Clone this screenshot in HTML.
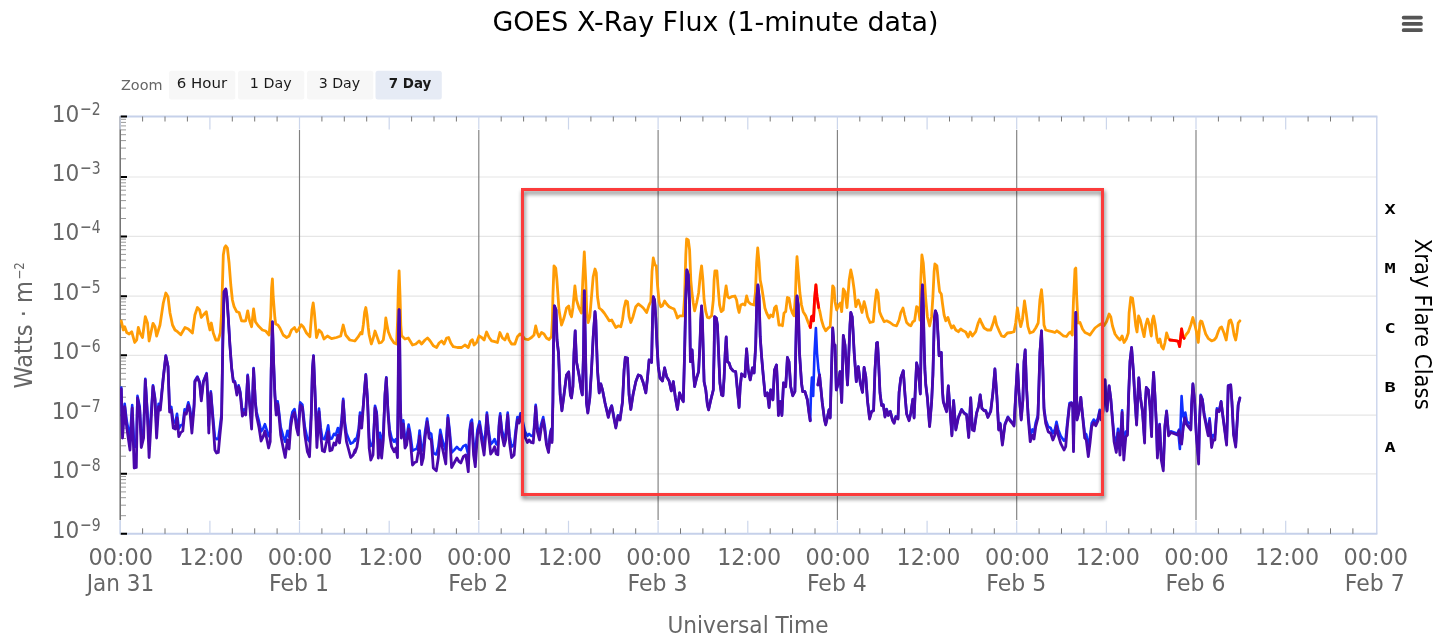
<!DOCTYPE html>
<html lang="en"><head><meta charset="utf-8"><title>GOES X-Ray Flux (1-minute data)</title>
<style>
html,body{margin:0;padding:0;background:#fff;}
body{width:1441px;height:638px;overflow:hidden;position:relative;font-family:"DejaVu Sans", "Liberation Sans", sans-serif;}
svg{position:absolute;left:0;top:0;display:block;}
svg text{font-family:"DejaVu Sans", "Liberation Sans", sans-serif;}
.ax{fill:#666;font-size:22.5px;}
.ylab{fill:#666;font-size:23.5px;}
.sup{font-size:18.5px;}
.btn{fill:#1a1a1a;font-size:14.5px;}
.cls{font-family:"DejaVu Sans Mono", "Liberation Mono", monospace;font-weight:bold;font-size:14px;fill:#000;}
</style></head><body>
<svg width="1441" height="638" viewBox="0 0 1441 638">
<defs><filter id="sh" x="-5%" y="-5%" width="110%" height="112%"><feGaussianBlur in="SourceAlpha" stdDeviation="2.2"/><feOffset dx="1.3" dy="3.3"/><feComponentTransfer><feFuncA type="linear" slope="0.55"/></feComponentTransfer><feMerge><feMergeNode/><feMergeNode in="SourceGraphic"/></feMerge></filter>
<clipPath id="plot"><rect x="120" y="117" width="1258" height="417"/></clipPath></defs>
<rect width="1441" height="638" fill="#fff"/>
<path d="M120.2 177.0H1376.8M120.2 236.4H1376.8M120.2 296.2H1376.8M120.2 355.3H1376.8M120.2 415.2H1376.8M120.2 473.8H1376.8" stroke="#e6e6e6" stroke-width="1.2" fill="none"/>
<path d="M299.50 130.0V520.0M478.80 130.0V520.0M658.10 130.0V520.0M837.40 130.0V520.0M1016.70 130.0V520.0M1196.00 130.0V520.0" stroke="#808080" stroke-width="1.15" fill="none"/>
<path d="M119.7 116.5H1377.4M119.7 533.8H1377.4" stroke="#c6d1ea" stroke-width="2.0" fill="none"/>
<path d="M1376.8 116.5V533.8" stroke="#c6d1ea" stroke-width="1.3" fill="none"/>
<path d="M120.2 116.5V520.0" stroke="#666" stroke-width="1.4" fill="none"/>
<path d="M120.2 520.0V533.8" stroke="#ccd6eb" stroke-width="1.4" fill="none"/>
<path d="M120.2 116.5V129.5M209.9 116.5V129.5M299.5 116.5V129.5M389.2 116.5V129.5M478.8 116.5V129.5M568.5 116.5V129.5M658.1 116.5V129.5M747.8 116.5V129.5M837.4 116.5V129.5M927.1 116.5V129.5M1016.7 116.5V129.5M1106.4 116.5V129.5M1196.0 116.5V129.5M1285.7 116.5V129.5M120.2 520.8V533.8M209.9 520.8V533.8M299.5 520.8V533.8M389.2 520.8V533.8M478.8 520.8V533.8M568.5 520.8V533.8M658.1 520.8V533.8M747.8 520.8V533.8M837.4 520.8V533.8M927.1 520.8V533.8M1016.7 520.8V533.8M1106.4 520.8V533.8M1196.0 520.8V533.8M1285.7 520.8V533.8" stroke="#ccd6eb" stroke-width="1.2" fill="none"/>
<path d="M142.6 116.5V121.5M165.0 116.5V121.5M187.4 116.5V121.5M232.3 116.5V121.5M254.7 116.5V121.5M277.1 116.5V121.5M321.9 116.5V121.5M344.3 116.5V121.5M366.7 116.5V121.5M411.6 116.5V121.5M434.0 116.5V121.5M456.4 116.5V121.5M501.2 116.5V121.5M523.6 116.5V121.5M546.0 116.5V121.5M590.9 116.5V121.5M613.3 116.5V121.5M635.7 116.5V121.5M680.5 116.5V121.5M702.9 116.5V121.5M725.3 116.5V121.5M770.2 116.5V121.5M792.6 116.5V121.5M815.0 116.5V121.5M859.8 116.5V121.5M882.2 116.5V121.5M904.6 116.5V121.5M949.5 116.5V121.5M971.9 116.5V121.5M994.3 116.5V121.5M1039.1 116.5V121.5M1061.5 116.5V121.5M1083.9 116.5V121.5M1128.8 116.5V121.5M1151.2 116.5V121.5M1173.6 116.5V121.5M1218.4 116.5V121.5M1240.8 116.5V121.5M1263.2 116.5V121.5M1308.1 116.5V121.5M1330.5 116.5V121.5M1352.9 116.5V121.5M142.6 528.3V533.8M165.0 528.3V533.8M187.4 528.3V533.8M232.3 528.3V533.8M254.7 528.3V533.8M277.1 528.3V533.8M321.9 528.3V533.8M344.3 528.3V533.8M366.7 528.3V533.8M411.6 528.3V533.8M434.0 528.3V533.8M456.4 528.3V533.8M501.2 528.3V533.8M523.6 528.3V533.8M546.0 528.3V533.8M590.9 528.3V533.8M613.3 528.3V533.8M635.7 528.3V533.8M680.5 528.3V533.8M702.9 528.3V533.8M725.3 528.3V533.8M770.2 528.3V533.8M792.6 528.3V533.8M815.0 528.3V533.8M859.8 528.3V533.8M882.2 528.3V533.8M904.6 528.3V533.8M949.5 528.3V533.8M971.9 528.3V533.8M994.3 528.3V533.8M1039.1 528.3V533.8M1061.5 528.3V533.8M1083.9 528.3V533.8M1128.8 528.3V533.8M1151.2 528.3V533.8M1173.6 528.3V533.8M1218.4 528.3V533.8M1240.8 528.3V533.8M1263.2 528.3V533.8M1308.1 528.3V533.8M1330.5 528.3V533.8M1352.9 528.3V533.8" stroke="#777" stroke-width="1" fill="none"/>
<path d="M121.0 158.8H126.0M121.0 148.1H126.0M121.0 140.6H126.0M121.0 134.7H126.0M121.0 129.9H126.0M121.0 125.9H126.0M121.0 122.4H126.0M121.0 119.3H126.0M121.0 218.5H126.0M121.0 208.1H126.0M121.0 200.6H126.0M121.0 194.9H126.0M121.0 190.2H126.0M121.0 186.2H126.0M121.0 182.8H126.0M121.0 179.7H126.0M121.0 278.2H126.0M121.0 267.7H126.0M121.0 260.2H126.0M121.0 254.4H126.0M121.0 249.7H126.0M121.0 245.7H126.0M121.0 242.2H126.0M121.0 239.1H126.0M121.0 337.5H126.0M121.0 327.1H126.0M121.0 319.7H126.0M121.0 314.0H126.0M121.0 309.3H126.0M121.0 305.4H126.0M121.0 301.9H126.0M121.0 298.9H126.0M121.0 397.2H126.0M121.0 386.6H126.0M121.0 379.1H126.0M121.0 373.3H126.0M121.0 368.6H126.0M121.0 364.6H126.0M121.0 361.1H126.0M121.0 358.0H126.0M121.0 456.2H126.0M121.0 445.8H126.0M121.0 438.5H126.0M121.0 432.8H126.0M121.0 428.2H126.0M121.0 424.3H126.0M121.0 420.9H126.0M121.0 417.9H126.0M121.0 515.7H126.0M121.0 505.2H126.0M121.0 497.7H126.0M121.0 491.9H126.0M121.0 487.1H126.0M121.0 483.1H126.0M121.0 479.6H126.0M121.0 476.5H126.0" stroke="#999" stroke-width="1" fill="none"/>
<path d="M120.8 116.5H127.0M120.8 177.0H127.0M120.8 236.4H127.0M120.8 296.2H127.0M120.8 355.3H127.0M120.8 415.2H127.0M120.8 473.8H127.0M120.8 533.8H127.0" stroke="#000" stroke-width="2" fill="none"/>
<g clip-path="url(#plot)">
<path d="M121.3 321.0L123.3 330.0L124.7 326.7L126.7 332.5L129.2 334.0L131.7 331.7L134.7 342.5L136.7 340.0L138.3 327.5L140.0 333.0L142.5 337.5L145.3 316.7L147.5 323.0L149.1 341.0L153.0 323.3L155.0 326.7L156.6 336.0L160.0 325.0L163.3 303.0L165.8 293.0L168.0 296.7L170.0 313.0L172.5 325.0L175.0 330.0L177.5 331.7L180.8 334.7L185.0 327.5L188.3 329.0L192.4 333.0L194.9 315.0L197.4 307.5L199.6 310.0L201.3 317.5L203.3 315.0L206.3 311.7L208.3 323.0L209.9 330.0L211.3 323.0L213.3 333.0L215.8 340.0L218.3 340.0L220.3 333.0L221.6 313.0L223.3 255.0L224.6 247.5L225.8 245.8L227.4 248.0L229.1 263.0L230.8 285.0L232.4 300.0L234.1 306.7L236.6 311.7L239.1 312.5L241.6 320.8L244.1 321.0L245.7 320.8L247.7 310.8L249.6 320.8L251.6 326.7L253.6 309.0L255.4 321.7L258.2 325.8L262.4 330.0L265.7 331.0L269.1 335.0L270.7 316.7L271.6 288.0L272.4 279.0L273.2 296.7L274.9 318.0L275.7 324.0L277.9 325.0L279.9 328.0L283.2 335.0L286.6 337.5L289.1 336.0L291.5 330.0L294.5 327.5L296.5 331.7L298.2 330.0L301.2 324.7L303.2 326.7L306.5 333.0L309.9 336.7L312.0 310.0L313.2 303.0L314.4 313.0L316.5 337.5L319.0 330.0L321.5 332.5L324.0 339.0L327.4 336.0L331.5 338.7L336.5 337.5L340.7 336.0L343.2 325.0L345.7 335.0L349.8 340.0L354.8 341.0L355.0 340.8L358.3 336.7L360.8 332.5L362.0 334.0L363.3 325.0L364.7 312.0L365.8 307.5L367.0 315.0L368.3 328.0L369.2 335.0L371.3 344.0L373.3 338.0L375.0 331.0L377.5 338.0L379.2 343.0L381.3 342.5L383.3 340.0L385.0 328.0L385.8 318.0L387.0 325.0L388.3 331.7L390.8 338.0L394.1 343.0L396.6 344.0L397.6 320.0L398.3 290.0L399.1 270.8L400.0 295.0L400.8 325.0L401.6 335.8L405.0 339.0L408.3 338.0L412.5 345.0L415.8 344.0L419.1 341.0L421.6 344.0L425.0 340.0L427.5 338.0L430.0 340.8L433.3 345.8L436.6 347.5L439.1 343.0L441.6 341.0L444.1 344.0L446.6 338.0L448.6 337.5L450.8 343.0L453.3 346.7L457.4 347.5L461.6 347.5L464.9 345.0L468.3 347.5L470.8 340.8L472.4 339.7L474.1 345.0L476.6 342.5L479.1 335.8L481.6 337.5L484.1 340.0L486.6 332.0L489.1 337.5L491.6 340.8L494.9 341.7L497.4 342.5L499.9 332.5L502.4 338.0L504.9 340.0L507.4 334.0L509.1 340.0L511.6 344.0L514.9 344.0L517.4 336.7L519.9 334.0L522.4 335.8L524.9 339.0L528.2 339.7L531.5 337.5L534.0 335.0L535.7 326.0L537.4 333.0L539.0 336.7L541.5 332.5L544.0 334.0L546.5 338.0L549.0 339.7L551.5 336.7L552.4 320.0L552.9 296.7L554.0 265.8L555.7 268.0L556.9 280.0L559.0 310.0L561.5 325.0L564.0 318.0L566.5 308.0L568.7 306.0L570.2 314.0L571.5 316.7L572.9 308.0L574.9 285.8L576.5 300.0L579.0 308.0L581.5 313.0L582.8 280.0L584.3 252.0L585.7 280.0L586.8 313.0L588.2 322.5L589.8 316.7L591.5 296.7L593.2 276.7L595.0 269.0L596.3 273.0L597.5 296.7L599.2 308.0L601.7 310.0L604.2 313.0L606.7 316.7L609.2 320.8L611.7 320.0L613.3 323.0L615.8 327.5L618.3 325.8L620.8 326.7L622.5 320.0L624.1 308.0L625.8 300.8L627.5 301.7L629.1 316.7L630.8 322.5L633.0 316.7L635.8 306.7L638.3 304.0L640.8 305.8L643.3 308.0L646.6 312.5L649.1 305.0L650.8 301.7L652.0 271.7L653.3 258.0L655.0 265.0L656.3 265.8L657.5 285.0L659.1 301.7L660.8 306.7L662.5 305.8L664.6 301.0L666.6 304.0L669.1 306.7L671.6 308.0L674.1 309.0L675.8 313.0L677.4 318.0L679.9 315.8L683.3 315.8L684.6 296.7L685.8 255.0L686.6 239.0L688.3 240.0L689.6 250.0L690.8 280.0L691.9 292.5L693.3 303.0L694.6 310.8L696.6 303.0L698.6 293.0L700.3 275.0L701.6 265.8L702.9 280.0L704.1 300.0L705.8 311.7L707.4 317.5L709.1 318.0L711.6 315.8L713.3 300.0L714.1 280.0L714.9 271.0L716.9 271.0L717.9 285.0L719.6 305.0L721.2 311.7L723.2 310.0L724.6 296.7L726.1 286.0L727.7 296.7L729.1 298.0L731.6 296.7L734.9 296.0L736.6 300.0L737.9 308.0L739.1 312.5L740.7 305.0L742.9 304.0L744.9 305.0L746.6 296.0L748.2 301.7L750.7 304.0L754.1 305.0L755.4 293.0L756.6 263.0L757.7 248.0L759.1 263.0L760.2 280.0L761.6 286.7L763.2 296.7L764.9 308.0L766.6 313.0L769.1 318.0L770.7 315.0L772.9 316.7L774.5 308.0L776.2 306.0L777.4 313.0L779.0 325.0L781.5 325.0L782.4 325.8L784.0 313.0L785.7 311.7L787.4 297.5L789.0 298.0L790.7 308.0L792.4 313.0L794.0 315.8L795.4 296.7L796.2 271.7L797.0 256.7L798.2 271.7L799.9 293.0L801.5 305.0L803.2 311.7L805.7 315.8L808.2 322.5L810.4 327.5L811.5 316.7L812.9 315.8L813.5 320.8L814.5 300.0L815.9 285.0L817.0 296.7L818.7 307.5L819.9 311.7L821.5 320.0L823.5 326.7L825.7 330.8L828.2 328.0L830.2 326.7L831.5 305.0L832.7 285.8L834.0 288.0L835.0 301.7L836.7 310.0L838.7 305.0L840.3 303.0L841.7 311.7L843.3 289.0L845.0 291.7L847.0 307.5L849.2 280.0L850.8 270.0L852.5 278.0L854.2 290.0L855.8 306.7L858.3 300.0L860.3 305.8L862.0 312.5L864.1 301.7L865.8 308.0L867.5 316.7L870.0 322.5L873.3 321.7L875.0 303.0L876.6 290.0L878.0 293.0L879.6 311.7L881.6 316.7L884.1 321.7L886.6 320.8L890.0 322.5L893.3 325.0L896.6 325.8L899.1 320.0L900.8 312.5L903.0 308.0L904.6 315.0L906.6 322.5L909.1 325.0L910.8 325.8L912.9 321.7L914.6 320.8L916.6 306.7L918.3 308.0L919.9 320.0L920.8 280.0L921.9 255.0L923.3 263.0L924.6 281.7L925.8 300.0L927.4 316.7L929.6 326.0L931.6 316.7L932.9 296.7L934.1 271.7L934.9 264.0L936.9 265.8L938.3 280.0L939.6 291.7L941.3 294.0L942.4 303.0L944.1 315.0L945.8 320.8L947.9 317.5L949.6 323.0L951.6 328.0L953.6 325.8L955.8 330.0L958.3 331.7L960.7 329.0L963.2 330.8L965.7 332.0L968.2 337.0L970.2 332.0L972.4 336.0L975.7 331.7L978.2 323.0L979.9 319.0L981.6 323.0L984.1 328.0L987.4 330.0L990.7 330.0L993.2 323.0L994.9 316.7L996.6 325.0L999.1 330.8L1001.6 336.0L1004.1 336.7L1007.4 333.0L1011.5 332.5L1014.0 331.7L1015.7 323.0L1017.4 308.0L1019.0 318.0L1020.7 326.7L1022.4 320.0L1024.5 301.0L1026.2 313.0L1027.9 326.7L1029.9 333.0L1033.2 331.7L1035.7 328.0L1038.2 323.0L1039.9 300.0L1041.5 289.7L1042.9 305.0L1044.0 325.0L1045.7 330.0L1049.0 330.8L1052.4 331.7L1054.9 332.5L1056.9 330.8L1059.9 333.0L1063.2 335.8L1066.5 336.5L1069.0 333.0L1070.7 332.0L1072.3 335.0L1073.5 300.0L1075.0 269.0L1075.8 268.0L1076.7 296.7L1078.0 323.0L1080.0 322.5L1082.5 329.0L1085.0 332.5L1088.3 334.0L1090.0 335.0L1091.7 332.5L1095.0 328.0L1098.3 325.5L1100.8 324.0L1104.1 325.5L1106.6 321.5L1109.1 314.0L1110.8 317.0L1112.5 326.0L1115.0 334.0L1117.5 337.5L1120.0 340.0L1122.1 336.0L1124.1 342.5L1126.3 339.0L1128.3 333.0L1129.1 313.0L1130.8 297.5L1132.5 298.0L1134.1 310.0L1135.8 326.0L1137.0 332.0L1138.6 316.0L1140.3 320.0L1142.5 330.0L1144.1 336.7L1145.8 325.0L1147.5 319.0L1149.1 324.0L1151.3 336.0L1152.4 320.0L1153.6 316.0L1155.3 325.0L1156.9 338.0L1158.3 342.5L1159.9 339.0L1161.6 346.7L1163.3 349.0L1164.9 343.0L1166.6 333.0L1168.3 338.0L1169.9 340.0L1173.3 340.3L1176.6 340.8L1178.3 341.3L1179.6 346.7L1180.4 340.0L1181.6 329.0L1182.9 336.7L1184.1 338.3L1185.8 335.0L1188.3 332.0L1190.8 325.0L1192.9 317.5L1194.6 324.0L1196.3 331.0L1197.4 338.0L1198.3 342.5L1199.1 333.0L1199.9 323.0L1200.7 321.0L1201.9 321.5L1203.6 327.0L1205.7 334.0L1208.2 338.3L1211.6 340.8L1214.1 340.0L1216.2 337.5L1218.2 331.7L1219.9 328.0L1221.6 327.0L1224.1 333.3L1226.2 340.0L1227.9 328.0L1229.1 321.0L1230.7 320.0L1232.4 325.0L1234.1 335.0L1235.7 340.0L1236.9 333.0L1238.2 323.0L1239.9 320.8" stroke="#ff9c05" stroke-width="2.8" fill="none" stroke-linejoin="round" stroke-linecap="round"/>
<path d="M809.9 326.0L810.4 327.5L811.5 316.7L812.9 315.8L813.5 320.8L814.5 300.0L815.9 285.0L817.0 296.7L818.7 307.5" stroke="#ff0000" stroke-width="2.8" fill="none" stroke-linejoin="round" stroke-linecap="round"/>
<path d="M1169.9 340.0L1173.3 340.3L1176.6 340.8L1178.3 341.3L1179.6 346.7L1180.4 340.0L1181.6 329.0L1182.9 336.7L1184.1 338.3" stroke="#ff0000" stroke-width="2.8" fill="none" stroke-linejoin="round" stroke-linecap="round"/>
<path d="M121.3 387.5L122.5 429.4L124.7 403.8L126.7 421.1L130.0 437.4L132.2 405.0L134.2 446.9L136.3 446.7L137.5 395.9L139.7 406.8L141.3 435.8L143.6 429.4L145.3 378.9L147.5 413.7L149.1 441.7L153.0 385.2L155.0 397.8L156.6 429.4L158.6 403.8L160.3 406.8L163.3 377.0L165.8 355.6L168.0 366.1L169.6 408.5L171.3 406.8L173.3 421.9L175.3 422.7L177.0 413.7L178.8 428.5L180.8 425.3L182.8 424.2L184.6 409.4L186.3 410.3L188.3 402.3L190.0 408.5L191.9 425.7L194.1 404.1L194.9 380.6L197.4 376.5L199.6 381.8L201.3 398.5L203.3 381.3L206.6 373.2L207.9 397.8L208.8 425.7L209.6 406.8L210.8 391.3L213.3 420.3L214.9 437.4L216.6 439.2L218.3 438.9L219.9 427.2L221.6 413.7L222.9 336.8L224.1 291.7L225.8 289.0L226.9 297.0L228.3 317.9L229.9 344.7L231.6 367.3L233.3 380.6L234.9 381.3L236.9 393.1L238.6 385.3L240.2 391.3L242.4 412.0L244.1 409.4L245.7 411.1L247.7 374.9L249.6 401.4L251.6 422.7L253.6 368.1L255.4 401.4L256.6 412.0L259.1 421.9L261.1 431.5L263.2 428.5L264.9 424.2L266.6 429.4L268.6 436.2L270.2 432.0L271.2 369.3L272.4 321.9L273.6 361.5L274.9 394.1L276.2 411.1L277.7 401.4L279.1 412.6L280.7 427.2L283.2 436.2L285.2 441.7L287.4 430.8L289.1 436.8L290.7 420.8L292.4 412.0L294.5 409.0L296.5 421.9L298.2 427.2L300.2 402.3L302.4 404.6L304.9 427.3L307.4 438.7L309.5 441.6L311.2 413.8L312.4 369.3L313.5 355.6L314.9 388.5L316.9 436.3L319.0 408.5L320.7 427.7L322.4 438.6L324.5 439.2L326.5 432.7L328.2 425.3L329.9 438.9L331.9 438.4L334.0 433.8L335.7 435.2L337.9 428.0L339.5 433.9L341.5 421.5L343.2 398.8L344.8 421.6L346.5 433.2L348.2 437.6L350.7 443.7L353.2 442.3L355.0 439.2L355.0 440.8L357.0 437.0L358.7 428.5L360.0 412.5L361.7 422.9L363.3 404.4L364.7 386.9L365.8 374.3L367.5 398.2L369.2 438.3L370.8 446.0L373.0 443.0L374.2 422.1L375.0 405.7L376.7 412.0L378.3 445.1L380.0 432.8L381.6 445.2L383.3 432.9L385.0 393.6L386.3 377.3L388.0 410.3L389.6 429.2L391.6 438.1L394.1 441.7L395.8 439.2L397.5 445.6L398.1 398.4L398.6 329.9L399.1 309.7L399.6 329.9L400.3 398.4L401.3 431.8L403.3 420.3L405.0 439.5L406.6 437.3L408.6 424.6L410.3 433.6L412.5 450.8L414.6 449.5L416.6 449.1L418.3 442.6L419.6 430.5L421.6 451.1L423.3 446.9L425.0 432.3L427.1 418.5L429.1 432.3L431.3 433.9L433.3 453.0L436.3 454.5L438.3 446.9L440.3 429.9L442.4 440.0L445.8 450.7L446.9 429.9L447.9 415.2L449.6 429.9L451.6 452.7L454.1 450.1L456.9 446.9L459.1 449.3L460.8 450.1L463.3 446.1L465.8 444.9L466.9 449.3L468.3 455.0L469.6 429.9L470.8 421.4L471.9 419.7L473.6 444.9L475.3 452.2L477.4 429.9L479.6 421.4L481.6 433.9L484.1 444.9L485.7 429.9L486.9 412.5L488.6 429.9L490.7 444.2L492.4 442.6L494.6 439.0L496.2 444.2L497.9 444.7L499.1 422.9L500.2 413.4L501.9 429.9L504.1 438.4L505.7 433.9L507.7 412.5L509.6 436.2L511.6 446.6L514.1 444.9L515.7 429.9L517.4 417.0L519.1 419.7L520.4 413.2L522.4 419.7L524.9 431.3L527.4 435.8L529.1 433.9L531.2 435.8L533.2 436.2L534.5 422.9L535.7 404.9L537.4 427.1L539.5 433.9L541.2 424.0L543.2 417.0L544.9 427.1L546.5 443.0L548.5 449.8L550.2 433.6L551.2 428.9L552.0 440.7L552.9 401.3L553.4 349.9L554.4 305.8L556.0 310.0L557.0 340.0L558.5 352.9L560.2 394.7L561.9 410.3L564.0 394.7L566.5 374.9L568.7 371.9L570.4 394.7L571.5 397.7L572.9 386.5L574.0 352.9L575.2 330.8L576.5 361.6L579.0 374.9L581.2 389.8L582.3 394.7L583.5 352.9L584.3 290.8L585.3 340.0L586.5 402.6L587.8 412.4L589.8 397.7L591.5 369.9L593.2 336.7L595.0 311.7L595.8 320.0L596.3 336.7L597.5 369.9L599.2 392.7L600.8 383.8L602.5 389.8L605.0 402.6L608.3 416.8L610.0 409.5L611.7 405.5L613.7 416.0L615.8 426.9L618.0 415.3L620.0 419.2L622.5 401.6L624.1 369.9L625.3 357.4L627.5 357.9L629.1 394.7L630.8 409.0L633.0 394.7L635.8 381.5L638.3 374.9L640.8 375.9L643.3 382.8L645.8 392.7L647.5 377.8L649.1 359.9L651.6 362.4L652.5 320.0L653.3 296.7L654.6 300.0L655.8 318.0L657.0 345.0L658.3 366.6L660.0 377.8L662.5 380.8L664.6 367.9L666.6 376.6L669.1 380.8L671.3 390.7L673.3 381.5L675.4 397.7L677.4 409.0L679.6 392.7L681.6 398.2L683.3 401.3L684.6 352.9L685.8 296.7L686.9 270.0L688.3 275.0L689.6 305.0L690.4 361.6L692.1 349.9L693.3 369.9L694.6 386.5L696.6 377.8L698.6 371.6L699.9 345.0L700.8 320.0L701.6 306.0L702.4 320.0L703.3 352.9L704.1 381.5L705.8 389.8L707.4 404.6L708.6 409.5L710.8 399.6L713.3 389.8L714.1 352.9L714.6 316.7L716.3 318.0L717.4 325.0L718.6 352.9L719.9 382.8L721.6 394.7L722.9 395.5L724.1 377.8L725.2 352.9L726.2 337.0L727.4 361.6L729.1 362.9L730.7 367.9L733.2 370.9L735.7 371.6L737.4 389.8L739.1 407.0L740.2 386.5L741.6 373.9L744.9 376.6L746.6 348.9L748.2 369.9L750.2 379.8L752.4 367.9L754.1 372.9L755.7 345.0L756.9 297.0L757.9 285.0L759.1 297.0L760.2 336.7L761.6 356.6L763.2 374.9L765.2 395.5L767.4 392.7L769.1 407.0L770.7 389.8L772.9 399.6L774.5 369.9L776.5 364.9L777.7 389.8L778.4 414.8L780.2 401.3L781.9 414.8L783.5 382.8L785.7 386.5L787.4 357.4L789.0 361.6L790.7 386.5L792.7 395.5L794.9 391.4L795.7 352.9L796.4 320.0L797.0 296.0L798.2 305.0L798.9 330.0L799.5 352.9L801.5 382.8L802.7 391.4L804.9 391.4L807.4 399.6L809.0 412.4L810.2 420.0" stroke="#1030ff" stroke-width="2.6" fill="none" stroke-linejoin="round" stroke-linecap="round"/>
<path d="M817.9 384.8L819.5 374.9L820.7 386.5L822.3 402.6L824.5 419.2L825.7 424.1L827.3 417.3L829.0 409.5L830.2 417.3L831.5 369.9L832.7 328.0L834.0 345.0L835.0 345.0L836.3 389.8L838.3 382.8L840.0 371.6L841.7 402.1L843.3 335.5L845.0 345.0L847.5 384.8L849.2 345.0L850.0 325.0L850.8 312.5L852.2 317.0L853.0 330.0L854.2 352.9L856.3 381.5L858.3 366.6L860.3 382.8L862.5 392.2L864.1 367.4L865.8 376.6L867.5 400.6L869.6 418.2L871.6 411.1L873.6 410.3L875.0 369.9L876.6 343.0L877.5 342.5L878.6 361.6L880.0 392.7L881.6 405.1L883.3 404.6L885.0 416.3L886.6 409.0L888.3 414.8L890.3 411.1L892.5 419.7L894.1 422.4L895.8 416.3L898.0 418.2L899.1 392.2L900.8 377.8L903.3 370.7L905.0 394.7L906.6 413.4L909.1 420.0L910.8 412.7L912.8 399.1L914.1 417.3L915.3 389.8L916.6 362.9L918.3 369.9L920.3 393.7L920.9 359.9L921.6 310.0L922.4 285.0L923.3 305.0L924.1 345.0L924.9 369.9L925.8 384.8L927.4 397.7L929.6 425.7L931.6 402.1L932.9 374.9L933.8 340.0L934.4 318.0L935.4 310.8L936.9 315.0L938.3 340.0L939.1 355.7L941.3 352.4L942.4 389.8L943.3 401.3L944.9 406.2L946.6 411.1L948.3 385.8L949.9 407.5L951.9 434.4L953.6 400.4L955.8 428.9L958.3 417.3L961.6 409.3L964.1 412.7L966.6 414.4L968.7 436.0L970.7 397.7L972.4 428.9L974.1 429.6L976.6 412.7L978.6 406.2L980.2 394.7L981.9 408.0L984.1 410.3L985.7 410.3L987.9 416.8L990.7 410.9L992.9 392.7L994.9 368.9L996.9 396.7L998.7 428.9L1000.2 423.1L1002.4 443.0L1004.9 424.1L1007.9 416.8L1009.9 419.7L1012.4 422.6L1014.0 425.0L1015.7 394.7L1017.4 364.6L1019.0 393.2L1021.2 419.2L1022.9 399.6L1024.0 361.6L1025.2 349.9L1026.5 386.5L1028.2 415.0L1030.2 434.7L1032.4 429.4L1034.0 432.6L1035.7 422.5L1037.9 415.0L1038.9 385.8L1039.9 352.7L1041.5 330.9L1042.9 369.5L1044.0 407.7L1045.7 419.6L1048.2 426.7L1050.7 428.0L1052.9 433.4L1054.9 429.4L1056.5 421.8L1058.2 429.4L1060.7 435.9L1064.0 440.7L1065.7 438.4L1067.3 422.5L1069.5 403.1L1071.5 402.6L1072.8 407.0L1073.5 449.1L1075.5 335.0L1075.8 312.5L1076.3 369.9L1077.0 419.2L1078.7 412.4L1080.8 397.2L1082.5 414.4L1084.7 432.8L1086.3 434.4L1088.3 446.9L1090.0 436.8L1091.7 423.2L1093.7 419.5L1095.8 422.5L1098.0 418.0L1099.7 409.7L1101.3 419.2L1102.6 414.4L1103.6 402.6L1105.0 379.8L1106.0 399.6L1107.0 410.4L1109.1 385.8L1110.8 398.7L1112.5 418.2L1114.1 435.8L1116.3 444.0L1118.0 428.7L1120.0 445.8L1122.1 410.4L1123.8 449.2L1125.8 431.7L1127.5 430.3L1128.6 394.9L1130.0 361.4L1131.6 347.5L1133.3 369.9L1135.0 399.6L1136.6 424.1L1137.5 402.6L1138.8 377.8L1140.3 396.4L1142.5 411.1L1144.6 441.1L1145.3 402.6L1146.3 387.3L1148.3 389.8L1150.0 406.2L1151.6 435.2L1152.4 394.7L1153.6 372.4L1154.9 394.7L1156.3 422.1L1157.4 454.8L1159.6 424.1L1161.3 456.5L1163.3 465.7L1164.9 425.7L1166.6 410.9L1168.6 434.4L1170.8 431.2L1174.9 432.7L1177.4 433.6L1179.1 429.6L1180.4 441.1L1181.6 442.1L1183.3 425.7L1184.9 417.3L1186.3 423.1L1188.3 425.7L1190.8 428.9L1191.6 404.6L1192.9 383.8L1194.6 400.6L1196.3 433.6L1198.6 460.0L1199.6 419.2L1200.7 394.8L1202.4 398.9L1204.1 413.0L1206.6 424.8L1208.2 431.5L1209.6 418.3L1211.6 441.0L1213.2 435.0L1214.9 435.0L1216.9 408.3L1219.1 411.1L1221.1 401.3L1222.7 414.4L1224.4 426.9L1226.6 443.0L1227.4 417.3L1228.2 385.6L1230.7 384.8L1231.9 401.3L1233.6 433.6L1235.7 444.8L1236.9 425.7L1238.2 404.6L1239.9 397.7" stroke="#1030ff" stroke-width="2.6" fill="none" stroke-linejoin="round" stroke-linecap="round"/>
<path d="M810.2 420.8L811.0 393.0L811.9 377.5L813.2 396.0L814.5 353.0L815.9 328.0L817.0 353.0L818.5 370.0L819.9 378.0" stroke="#1030ff" stroke-width="2.6" fill="none" stroke-linejoin="round" stroke-linecap="round"/>
<path d="M1178.3 432.0L1179.9 449.0L1180.8 418.0L1181.6 396.0L1182.9 415.0L1184.1 418.0L1185.3 412.5L1186.9 421.7L1189.1 423.0" stroke="#1030ff" stroke-width="2.6" fill="none" stroke-linejoin="round" stroke-linecap="round"/>
<path d="M121.3 389.0L122.5 438.0L124.7 406.7L126.7 427.0L130.0 450.0L132.2 408.0L134.2 468.0L136.3 467.5L137.5 398.0L139.7 410.0L141.3 447.5L143.6 438.0L145.3 380.0L147.5 418.0L149.1 457.5L153.0 386.5L155.0 400.0L156.6 438.0L158.6 406.7L160.3 410.0L163.3 378.0L165.8 356.0L168.0 366.7L169.6 412.0L171.3 410.0L173.3 428.0L175.3 429.0L177.0 418.0L178.8 436.7L180.8 432.5L182.8 431.0L184.6 413.0L186.3 414.0L188.3 405.0L190.0 412.0L191.9 433.0L194.1 407.0L194.9 381.7L197.4 377.5L199.6 383.0L201.3 400.8L203.3 382.5L206.6 374.0L207.9 400.0L208.8 433.0L209.6 410.0L210.8 393.0L213.3 426.0L214.9 450.0L216.6 453.0L218.3 452.5L219.9 435.0L221.6 418.0L222.9 337.0L224.1 291.7L225.8 289.0L226.9 297.0L228.3 318.0L229.9 345.0L231.6 368.0L233.3 381.7L234.9 382.5L236.9 395.0L238.6 386.7L240.2 393.0L242.4 416.0L244.1 413.0L245.7 415.0L247.7 375.8L249.6 404.0L251.6 429.0L253.6 368.8L255.4 404.0L256.6 416.0L259.1 428.0L261.1 441.0L263.2 436.7L264.9 431.0L266.6 438.0L268.6 448.0L270.2 441.7L271.2 370.0L272.4 322.0L273.6 362.0L274.9 396.0L276.2 415.0L277.7 404.0L279.1 416.7L280.7 435.0L283.2 448.0L285.2 457.5L287.4 440.0L289.1 449.0L290.7 426.7L292.4 416.0L294.5 412.5L296.5 428.0L298.2 435.0L300.2 405.0L302.4 407.5L304.9 435.0L307.4 451.7L309.5 456.7L311.2 418.0L312.4 370.0L313.5 356.0L314.9 390.0L316.9 447.5L319.0 411.7L320.7 435.0L322.4 450.8L324.5 451.7L326.5 441.7L328.2 431.7L329.9 450.8L331.9 450.0L334.0 443.0L335.7 445.0L337.9 435.0L339.5 443.0L341.5 426.7L343.2 400.8L344.8 426.7L346.5 441.7L348.2 448.0L350.7 457.5L353.2 455.0L355.0 450.0L355.0 452.5L357.0 446.7L358.7 435.0L360.0 415.8L361.7 428.0L363.3 406.7L364.7 388.0L365.8 375.0L367.5 400.0L369.2 448.0L370.8 460.0L373.0 455.0L374.2 426.7L375.0 408.0L376.7 415.0L378.3 458.0L380.0 440.0L381.6 458.0L383.3 440.0L385.0 395.0L386.3 378.0L388.0 413.0L389.6 435.0L391.6 446.7L394.1 451.7L395.8 448.0L397.5 457.5L398.1 400.0L398.6 330.0L399.1 309.7L399.6 330.0L400.3 400.0L401.3 438.0L403.3 424.0L405.0 448.0L406.6 445.0L408.6 429.0L410.3 440.0L412.5 465.0L414.6 462.5L416.6 461.7L418.3 451.7L419.6 435.8L421.6 464.7L423.3 458.0L425.0 438.0L427.1 421.7L429.1 438.0L431.3 440.0L433.3 468.0L436.3 470.8L438.3 458.0L440.3 435.0L442.4 448.0L445.8 464.0L446.9 435.0L447.9 418.0L449.6 435.0L451.6 467.5L454.1 463.0L456.9 458.0L459.1 461.7L460.8 463.0L463.3 456.7L465.8 455.0L466.9 461.7L468.3 471.7L469.6 435.0L470.8 425.0L471.9 423.0L473.6 455.0L475.3 466.7L477.4 435.0L479.6 425.0L481.6 440.0L484.1 455.0L485.7 435.0L486.9 415.0L488.6 435.0L490.7 454.0L492.4 451.7L494.6 446.7L496.2 454.0L497.9 454.7L499.1 426.7L500.2 416.0L501.9 435.0L504.1 445.8L505.7 440.0L507.7 415.0L509.6 443.0L511.6 457.5L514.1 455.0L515.7 435.0L517.4 420.0L519.1 423.0L520.4 415.8L522.4 423.0L524.9 436.7L527.4 442.5L529.1 440.0L531.2 442.5L533.2 443.0L534.5 426.7L535.7 406.7L537.4 431.7L539.5 440.0L541.2 428.0L543.2 420.0L544.9 431.7L546.5 445.0L548.5 452.5L550.2 435.0L551.2 430.0L552.0 442.5L552.9 401.7L553.4 350.0L554.4 305.8L556.0 310.0L557.0 340.0L558.5 353.0L560.2 395.0L561.9 410.8L564.0 395.0L566.5 375.0L568.7 372.0L570.4 395.0L571.5 398.0L572.9 386.7L574.0 353.0L575.2 330.8L576.5 361.7L579.0 375.0L581.2 390.0L582.3 395.0L583.5 353.0L584.3 290.8L585.3 340.0L586.5 403.0L587.8 413.0L589.8 398.0L591.5 370.0L593.2 336.7L595.0 311.7L595.8 320.0L596.3 336.7L597.5 370.0L599.2 393.0L600.8 384.0L602.5 390.0L605.0 403.0L608.3 417.5L610.0 410.0L611.7 406.0L613.7 416.7L615.8 428.0L618.0 416.0L620.0 420.0L622.5 402.0L624.1 370.0L625.3 357.5L627.5 358.0L629.1 395.0L630.8 409.5L633.0 395.0L635.8 381.7L638.3 375.0L640.8 376.0L643.3 383.0L645.8 393.0L647.5 378.0L649.1 360.0L651.6 362.5L652.5 320.0L653.3 296.7L654.6 300.0L655.8 318.0L657.0 345.0L658.3 366.7L660.0 378.0L662.5 381.0L664.6 368.0L666.6 376.7L669.1 381.0L671.3 391.0L673.3 381.7L675.4 398.0L677.4 409.5L679.6 393.0L681.6 398.5L683.3 401.7L684.6 353.0L685.8 296.7L686.9 270.0L688.3 275.0L689.6 305.0L690.4 361.7L692.1 350.0L693.3 370.0L694.6 386.7L696.6 378.0L698.6 371.7L699.9 345.0L700.8 320.0L701.6 306.0L702.4 320.0L703.3 353.0L704.1 381.7L705.8 390.0L707.4 405.0L708.6 410.0L710.8 400.0L713.3 390.0L714.1 353.0L714.6 316.7L716.3 318.0L717.4 325.0L718.6 353.0L719.9 383.0L721.6 395.0L722.9 395.8L724.1 378.0L725.2 353.0L726.2 337.0L727.4 361.7L729.1 363.0L730.7 368.0L733.2 371.0L735.7 371.7L737.4 390.0L739.1 407.5L740.2 386.7L741.6 374.0L744.9 376.7L746.6 349.0L748.2 370.0L750.2 380.0L752.4 368.0L754.1 373.0L755.7 345.0L756.9 297.0L757.9 285.0L759.1 297.0L760.2 336.7L761.6 356.7L763.2 375.0L765.2 395.8L767.4 393.0L769.1 407.5L770.7 390.0L772.9 400.0L774.5 370.0L776.5 365.0L777.7 390.0L778.4 415.5L780.2 401.7L781.9 415.5L783.5 383.0L785.7 386.7L787.4 357.5L789.0 361.7L790.7 386.7L792.7 395.8L794.9 391.7L795.7 353.0L796.4 320.0L797.0 296.0L798.2 305.0L798.9 330.0L799.5 353.0L801.5 383.0L802.7 391.7L804.9 391.7L807.4 400.0L809.0 413.0L810.2 420.8" stroke="#4a08ac" stroke-width="2.8" fill="none" stroke-linejoin="round" stroke-linecap="round"/>
<path d="M817.9 385.0L819.5 375.0L820.7 386.7L822.3 403.0L824.5 420.0L825.7 425.0L827.3 418.0L829.0 410.0L830.2 418.0L831.5 370.0L832.7 328.0L834.0 345.0L835.0 345.0L836.3 390.0L838.3 383.0L840.0 371.7L841.7 402.5L843.3 335.5L845.0 345.0L847.5 385.0L849.2 345.0L850.0 325.0L850.8 312.5L852.2 317.0L853.0 330.0L854.2 353.0L856.3 381.7L858.3 366.7L860.3 383.0L862.5 392.5L864.1 367.5L865.8 376.7L867.5 401.0L869.6 419.0L871.6 411.7L873.6 410.8L875.0 370.0L876.6 343.0L877.5 342.5L878.6 361.7L880.0 393.0L881.6 405.5L883.3 405.0L885.0 417.0L886.6 409.5L888.3 415.5L890.3 411.7L892.5 420.5L894.1 423.3L895.8 417.0L898.0 419.0L899.1 392.5L900.8 378.0L903.3 370.8L905.0 395.0L906.6 414.0L909.1 420.8L910.8 413.3L912.8 399.5L914.1 418.0L915.3 390.0L916.6 363.0L918.3 370.0L920.3 394.0L920.9 360.0L921.6 310.0L922.4 285.0L923.3 305.0L924.1 345.0L924.9 370.0L925.8 385.0L927.4 398.0L929.6 426.7L931.6 402.5L932.9 375.0L933.8 340.0L934.4 318.0L935.4 310.8L936.9 315.0L938.3 340.0L939.1 355.8L941.3 352.5L942.4 390.0L943.3 401.7L944.9 406.7L946.6 411.7L948.3 386.0L949.9 408.0L951.9 435.8L953.6 400.8L955.8 430.0L958.3 418.0L961.6 409.8L964.1 413.3L966.6 415.0L968.7 437.5L970.7 398.0L972.4 430.0L974.1 430.8L976.6 413.3L978.6 406.7L980.2 395.0L981.9 408.5L984.1 410.8L985.7 410.8L987.9 417.5L990.7 411.5L992.9 393.0L994.9 369.0L996.9 397.0L998.7 430.0L1000.2 424.0L1002.4 445.0L1004.9 425.0L1007.9 417.5L1009.9 420.5L1012.4 423.5L1014.0 426.0L1015.7 395.0L1017.4 364.7L1019.0 393.5L1021.2 420.0L1022.9 400.0L1024.0 361.7L1025.2 350.0L1026.5 386.7L1028.2 418.0L1030.2 441.7L1032.4 435.0L1034.0 439.0L1035.7 426.7L1037.9 418.0L1038.9 386.7L1039.9 353.0L1041.5 331.0L1042.9 370.0L1044.0 410.0L1045.7 423.3L1048.2 431.7L1050.7 433.3L1052.9 440.0L1054.9 435.0L1056.5 425.8L1058.2 435.0L1060.7 443.3L1064.0 450.0L1065.7 446.7L1067.3 426.7L1069.5 405.0L1071.5 403.0L1072.8 407.5L1073.5 451.7L1075.5 335.0L1075.8 312.5L1076.3 370.0L1077.0 420.0L1078.7 413.0L1080.8 397.5L1082.5 415.0L1084.7 438.0L1086.3 440.0L1088.3 456.7L1090.0 443.0L1091.7 426.7L1093.7 422.5L1095.8 425.8L1098.0 420.8L1099.7 411.7L1101.3 420.0L1102.6 415.0L1103.6 403.0L1105.0 380.0L1106.0 400.0L1107.0 411.0L1109.1 386.0L1110.8 399.0L1112.5 421.0L1114.1 441.7L1116.3 452.5L1118.0 433.0L1120.0 455.0L1122.1 412.5L1123.8 460.0L1125.8 436.7L1127.5 435.0L1128.6 396.0L1130.0 361.7L1131.6 347.5L1133.3 370.0L1135.0 400.0L1136.6 425.0L1137.5 403.0L1138.8 378.0L1140.3 396.7L1142.5 411.7L1144.6 443.0L1145.3 403.0L1146.3 387.5L1148.3 390.0L1150.0 406.7L1151.6 436.7L1152.4 395.0L1153.6 372.5L1154.9 395.0L1156.3 423.0L1157.4 458.0L1159.6 425.0L1161.3 460.0L1163.3 470.8L1164.9 426.7L1166.6 411.5L1168.6 435.8L1170.8 432.5L1174.9 434.0L1177.4 435.0L1179.1 430.8L1180.4 443.0L1181.6 444.0L1183.3 426.7L1184.9 418.0L1186.3 424.0L1188.3 426.7L1190.8 430.0L1191.6 405.0L1192.9 384.0L1194.6 401.0L1196.3 435.0L1198.6 464.0L1199.6 420.0L1200.7 395.8L1202.4 400.0L1204.1 415.0L1206.6 428.0L1208.2 435.8L1209.6 420.8L1211.6 447.5L1213.2 440.0L1214.9 440.0L1216.9 410.0L1219.1 411.7L1221.1 401.7L1222.7 415.0L1224.4 428.0L1226.6 445.0L1227.4 418.0L1228.2 385.8L1230.7 385.0L1231.9 401.7L1233.6 435.0L1235.7 447.0L1236.9 426.7L1238.2 405.0L1239.9 398.0" stroke="#4a08ac" stroke-width="2.8" fill="none" stroke-linejoin="round" stroke-linecap="round"/>
</g>
<rect x="522.5" y="189.5" width="580" height="305" fill="none" stroke="#fb3b3b" stroke-width="3" filter="url(#sh)"/>
<text x="492.4" y="30.6" font-size="26.5" fill="#000" textLength="446" lengthAdjust="spacingAndGlyphs">GOES X-Ray Flux (1-minute data)</text>
<path d="M1403.6 17.6H1421M1403.6 23.9H1421M1403.6 30.2H1421" stroke="#555" stroke-width="3.7" stroke-linecap="round" fill="none"/>
<text x="121" y="89.6" font-size="14" fill="#666" textLength="41.5" lengthAdjust="spacingAndGlyphs">Zoom</text>
<rect x="169.0" y="70.8" width="66.3" height="28.8" rx="2.5" fill="#f7f7f7"/>
<text class="btn" x="176.8" y="87.6" textLength="50.4" lengthAdjust="spacingAndGlyphs">6 Hour</text>
<rect x="238.0" y="70.8" width="66.3" height="28.8" rx="2.5" fill="#f7f7f7"/>
<text class="btn" x="249.8" y="87.6" textLength="41.8" lengthAdjust="spacingAndGlyphs">1 Day</text>
<rect x="307.0" y="70.8" width="66.3" height="28.8" rx="2.5" fill="#f7f7f7"/>
<text class="btn" x="318.7" y="87.6" textLength="41.5" lengthAdjust="spacingAndGlyphs">3 Day</text>
<rect x="375.5" y="70.8" width="66.3" height="28.8" rx="2.5" fill="#e6ebf5"/>
<text class="btn" x="388.8" y="87.6" textLength="42.5" lengthAdjust="spacingAndGlyphs" font-weight="bold" fill="#000">7 Day</text>
<text class="ylab" x="51.8" y="122.1" textLength="27.6" lengthAdjust="spacingAndGlyphs">10</text>
<text class="ylab sup" x="80" y="115.0" textLength="20.6" lengthAdjust="spacingAndGlyphs">−2</text>
<text class="ylab" x="51.8" y="181.0" textLength="27.6" lengthAdjust="spacingAndGlyphs">10</text>
<text class="ylab sup" x="80" y="173.9" textLength="20.6" lengthAdjust="spacingAndGlyphs">−3</text>
<text class="ylab" x="51.8" y="240.4" textLength="27.6" lengthAdjust="spacingAndGlyphs">10</text>
<text class="ylab sup" x="80" y="233.3" textLength="20.6" lengthAdjust="spacingAndGlyphs">−4</text>
<text class="ylab" x="51.8" y="300.2" textLength="27.6" lengthAdjust="spacingAndGlyphs">10</text>
<text class="ylab sup" x="80" y="293.1" textLength="20.6" lengthAdjust="spacingAndGlyphs">−5</text>
<text class="ylab" x="51.8" y="359.3" textLength="27.6" lengthAdjust="spacingAndGlyphs">10</text>
<text class="ylab sup" x="80" y="352.2" textLength="20.6" lengthAdjust="spacingAndGlyphs">−6</text>
<text class="ylab" x="51.8" y="419.2" textLength="27.6" lengthAdjust="spacingAndGlyphs">10</text>
<text class="ylab sup" x="80" y="412.1" textLength="20.6" lengthAdjust="spacingAndGlyphs">−7</text>
<text class="ylab" x="51.8" y="477.8" textLength="27.6" lengthAdjust="spacingAndGlyphs">10</text>
<text class="ylab sup" x="80" y="470.7" textLength="20.6" lengthAdjust="spacingAndGlyphs">−8</text>
<text class="ylab" x="51.8" y="537.6" textLength="27.6" lengthAdjust="spacingAndGlyphs">10</text>
<text class="ylab sup" x="80" y="530.5" textLength="20.6" lengthAdjust="spacingAndGlyphs">−9</text>
<text transform="translate(31.8,388.6) rotate(-90)" font-size="24" fill="#666" textLength="107.6" lengthAdjust="spacingAndGlyphs">Watts · m</text>
<text transform="translate(23.8,279.6) rotate(-90)" font-size="13.5" fill="#666" textLength="17.4" lengthAdjust="spacingAndGlyphs">−2</text>
<text class="ax" x="120.7" y="565" text-anchor="middle" textLength="64.6" lengthAdjust="spacingAndGlyphs">00:00</text>
<text class="ax" x="120.4" y="590.5" text-anchor="middle" textLength="67.5" lengthAdjust="spacingAndGlyphs">Jan 31</text>
<text class="ax" x="211.3" y="565" text-anchor="middle" textLength="64" lengthAdjust="spacingAndGlyphs">12:00</text>
<text class="ax" x="300.0" y="565" text-anchor="middle" textLength="64.6" lengthAdjust="spacingAndGlyphs">00:00</text>
<text class="ax" x="299.0" y="590.5" text-anchor="middle" textLength="60" lengthAdjust="spacingAndGlyphs">Feb 1</text>
<text class="ax" x="390.6" y="565" text-anchor="middle" textLength="64" lengthAdjust="spacingAndGlyphs">12:00</text>
<text class="ax" x="479.3" y="565" text-anchor="middle" textLength="64.6" lengthAdjust="spacingAndGlyphs">00:00</text>
<text class="ax" x="478.3" y="590.5" text-anchor="middle" textLength="60" lengthAdjust="spacingAndGlyphs">Feb 2</text>
<text class="ax" x="569.9" y="565" text-anchor="middle" textLength="64" lengthAdjust="spacingAndGlyphs">12:00</text>
<text class="ax" x="658.6" y="565" text-anchor="middle" textLength="64.6" lengthAdjust="spacingAndGlyphs">00:00</text>
<text class="ax" x="657.6" y="590.5" text-anchor="middle" textLength="60" lengthAdjust="spacingAndGlyphs">Feb 3</text>
<text class="ax" x="749.2" y="565" text-anchor="middle" textLength="64" lengthAdjust="spacingAndGlyphs">12:00</text>
<text class="ax" x="837.9" y="565" text-anchor="middle" textLength="64.6" lengthAdjust="spacingAndGlyphs">00:00</text>
<text class="ax" x="836.9" y="590.5" text-anchor="middle" textLength="60" lengthAdjust="spacingAndGlyphs">Feb 4</text>
<text class="ax" x="928.5" y="565" text-anchor="middle" textLength="64" lengthAdjust="spacingAndGlyphs">12:00</text>
<text class="ax" x="1017.2" y="565" text-anchor="middle" textLength="64.6" lengthAdjust="spacingAndGlyphs">00:00</text>
<text class="ax" x="1016.2" y="590.5" text-anchor="middle" textLength="60" lengthAdjust="spacingAndGlyphs">Feb 5</text>
<text class="ax" x="1107.8" y="565" text-anchor="middle" textLength="64" lengthAdjust="spacingAndGlyphs">12:00</text>
<text class="ax" x="1196.5" y="565" text-anchor="middle" textLength="64.6" lengthAdjust="spacingAndGlyphs">00:00</text>
<text class="ax" x="1195.5" y="590.5" text-anchor="middle" textLength="60" lengthAdjust="spacingAndGlyphs">Feb 6</text>
<text class="ax" x="1287.1" y="565" text-anchor="middle" textLength="64" lengthAdjust="spacingAndGlyphs">12:00</text>
<text class="ax" x="1375.8" y="565" text-anchor="middle" textLength="64.6" lengthAdjust="spacingAndGlyphs">00:00</text>
<text class="ax" x="1374.8" y="590.5" text-anchor="middle" textLength="60" lengthAdjust="spacingAndGlyphs">Feb 7</text>
<text class="ax" x="748" y="632.5" text-anchor="middle" textLength="161" lengthAdjust="spacingAndGlyphs">Universal Time</text>
<text class="cls" x="1384.6" y="214.0" textLength="11.2" lengthAdjust="spacingAndGlyphs">X</text>
<text class="cls" x="1384.6" y="273.4" textLength="11.2" lengthAdjust="spacingAndGlyphs">M</text>
<text class="cls" x="1384.6" y="332.7" textLength="11.2" lengthAdjust="spacingAndGlyphs">C</text>
<text class="cls" x="1384.6" y="392.1" textLength="11.2" lengthAdjust="spacingAndGlyphs">B</text>
<text class="cls" x="1384.6" y="451.5" textLength="11.2" lengthAdjust="spacingAndGlyphs">A</text>
<text transform="translate(1414.9,238.8) rotate(90)" font-size="22.5" fill="#000" textLength="171" lengthAdjust="spacingAndGlyphs">Xray Flare Class</text>
</svg>
</body></html>
